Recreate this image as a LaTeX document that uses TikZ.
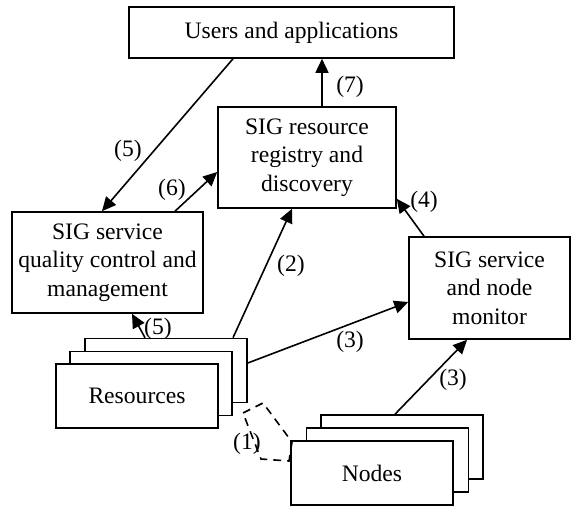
\documentclass[tikz,border=0pt]{standalone}
\usepackage{fontspec}
\setmainfont{Liberation Serif}
\usetikzlibrary{arrows.meta, positioning, calc}

\begin{document}
\begin{tikzpicture}[
    x=0.5pt, y=-0.5pt,
    box/.style={draw, line width=0.8pt, fill=white, align=center,
                inner sep=0pt, font=\fontsize{11.8}{14.2}\selectfont},
    link/.style={-{Triangle[length=7pt,width=6.5pt]}, line width=0.8pt},
    lbl/.style={inner sep=0pt, font=\fontsize{11.8}{14.2}\selectfont}
  ]
  \useasboundingbox (0,0) rectangle (571,507);

  % Top row
  \node[box, minimum width=162.5pt, minimum height=25.5pt] (users) at (291.5,32.5)
    {Users and applications};

  % Middle services
  \node[box, minimum width=89pt, minimum height=50.5pt] (reg) at (307,157.5)
    {SIG resource\\registry and\\discovery};
  \node[box, minimum width=95.5pt, minimum height=50.5pt] (qc) at (107.5,262.5)
    {SIG service\\quality control and\\management};
  \node[box, minimum width=80.5pt, minimum height=51pt] (mon) at (489.5,288)
    {SIG service\\and node\\monitor};

  % Resources stack
  \node[box, minimum width=81pt, minimum height=32pt] (res3) at (166,370.5) {};
  \node[box, minimum width=81pt, minimum height=32pt] (res2) at (151,383.5) {};
  \node[box, minimum width=81pt, minimum height=32pt] (res1) at (137,396) {Resources};

  % Nodes stack
  \node[box, minimum width=81pt, minimum height=32pt] (nod3) at (402,447) {};
  \node[box, minimum width=81pt, minimum height=32pt] (nod2) at (387.5,460) {};
  \node[box, minimum width=81pt, minimum height=32pt] (nod1) at (372,473) {Nodes};

  % Connectors
  \draw[link] ($(users.south)+(-58.5,0)$) -- ($(qc.north)+(-5.5,0)$);
  \node[lbl] (l5a) at (128,151) {(5)};
  \draw[link] ($(qc.north)+(67.5,0)$) -- ($(reg.west)+(0,14.5)$);
  \node[lbl] (l6) at (172,190) {(6)};
  \draw[link] ($(reg.north)+(15,0)$) -- ($(users.south)+(30.5,0)$);
  \node[lbl] (l7) at (350,87) {(7)};
  \draw[link] ($(res3.north)+(67,0)$) -- ($(reg.south)+(-15,0)$);
  \node[lbl] (l2) at (291,266) {(2)};
  \draw[link] ($(res3.east)+(0,-7.5)$) -- ($(mon.west)+(0,14)$);
  \node[lbl] (l3a) at (350,342) {(3)};
  \draw[link] ($(mon.north)+(-65.5,0)$) -- ($(reg.south east)+(0,-10)$);
  \node[lbl] (l4) at (424,202) {(4)};
  \draw[link] ($(nod3.north)+(-7,0)$) -- ($(mon.south)+(-22.5,0)$);
  \node[lbl] (l3b) at (453,380) {(3)};
  \draw[link] ($(res3.north)+(-21,0)$) -- ($(qc.south)+(24.5,0)$);
  \node[lbl] (l5b) at (158,329) {(5)};

  % Dashed link between resources and nodes
  \draw[dashed, line width=0.8pt, dash pattern=on 4pt off 3pt]
    (243,413) -- (263,403) -- (292,442) -- (289,461) -- (261,459) -- cycle;
  \node[lbl] (l1) at (247,444) {(1)};
\end{tikzpicture}
\end{document}
